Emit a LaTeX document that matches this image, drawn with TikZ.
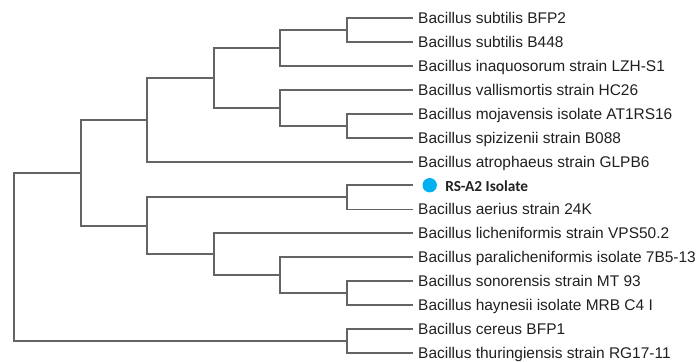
\documentclass[tikz,border=0pt]{standalone}
\usepackage{fontspec}
\setmainfont{Liberation Sans}
\newfontfamily\carlito{Carlito}
\usetikzlibrary{positioning}
\definecolor{treeGray}{RGB}{100,100,100}
\definecolor{labelBlack}{RGB}{32,32,32}
\definecolor{isoBlue}{RGB}{0,176,240}

\begin{document}
\begin{tikzpicture}[
    x=0.75pt, y=-0.75pt,
    branch/.style={draw=treeGray, line width=1.3pt},
    taxon/.style={anchor=west, inner xsep=3.7pt, inner ysep=0pt,
                  text height=9.5pt, text depth=1.25pt,
                  font=\fontsize{11.6}{13}\selectfont, text=labelBlack},
    isodot/.style={circle, fill=isoBlue, minimum size=10.8pt,
                   inner sep=0pt, outer sep=7.5pt},
    isolab/.style={anchor=base west, inner sep=0pt,
                   font=\carlito\bfseries\fontsize{11.5}{13}\selectfont, text=labelBlack},
  ]
  \useasboundingbox (0,0) rectangle (700,361);
  % Taxa
    \node[taxon] (sub1) at (413,18.3)  {Bacillus subtilis BFP2};
    \node[taxon] (sub2) at (413,42.2)  {Bacillus subtilis B448};
    \node[taxon] (inaq) at (413,66.1)  {Bacillus inaquosorum strain LZH-S1};
    \node[taxon] (vall) at (413,90.0)  {Bacillus vallismortis strain HC26};
    \node[taxon] (moja) at (413,113.9) {Bacillus mojavensis isolate AT1RS16};
    \node[taxon] (spiz) at (413,137.8) {Bacillus spizizenii strain B088};
    \node[taxon] (atro) at (413,161.7) {Bacillus atrophaeus strain GLPB6};
    \node[isodot] (dot) at (429.7,185.2) {};
    \node[isolab] (rsa) at (445,191)   {RS-A2 Isolate};
    \node[taxon] (aer)  at (413,209.4) {Bacillus aerius strain 24K};
    \node[taxon] (lich) at (413,233.3) {Bacillus licheniformis strain VPS50.2};
    \node[taxon] (para) at (413,257.2) {Bacillus paralicheniformis isolate 7B5-13};
    \node[taxon] (sono) at (413,281.1) {Bacillus sonorensis strain MT 93};
    \node[taxon] (hayn) at (413,305.0) {Bacillus haynesii isolate MRB C4 I};
    \node[taxon] (cer)  at (413,328.9) {Bacillus cereus BFP1};
    \node[taxon] (thur) at (413,352.8) {Bacillus thuringiensis strain RG17-11};
    % Splits
    \coordinate (subt) at (347,30.25);
    \coordinate (sinq) at (280,48.2);
    \coordinate (mosp) at (347,125.85);
    \coordinate (vams) at (280,107.9);
    \coordinate (subv) at (214,78.05);
    \coordinate (subg) at (147,119.9);
    \coordinate (isoa) at (347,197.3);
    \coordinate (soha) at (347,293.05);
    \coordinate (pash) at (280,275.1);
    \coordinate (ligr) at (214,254.2);
    \coordinate (lica) at (147,225.85);
    \coordinate (main) at (81,172.9);
    \coordinate (ceth) at (347,340.85);
    \coordinate (root) at (14,256.9);
    % Branches
    \draw[branch] (subt) |- (sub1);
    \draw[branch] (subt) |- (sub2);
    \draw[branch] (sinq) |- (subt);
    \draw[branch] (sinq) |- (inaq);
    \draw[branch] (mosp) |- (moja);
    \draw[branch] (mosp) |- (spiz);
    \draw[branch] (vams) |- (vall);
    \draw[branch] (vams) |- (mosp);
    \draw[branch] (subv) |- (sinq);
    \draw[branch] (subv) |- (vams);
    \draw[branch] (subg) |- (subv);
    \draw[branch] (subg) |- (atro);
    \draw[branch] (isoa) |- (dot);
    \draw[branch] (isoa) |- (aer);
    \draw[branch] (soha) |- (sono);
    \draw[branch] (soha) |- (hayn);
    \draw[branch] (pash) |- (para);
    \draw[branch] (pash) |- (soha);
    \draw[branch] (ligr) |- (lich);
    \draw[branch] (ligr) |- (pash);
    \draw[branch] (lica) |- (isoa);
    \draw[branch] (lica) |- (ligr);
    \draw[branch] (main) |- (subg);
    \draw[branch] (main) |- (lica);
    \draw[branch] (ceth) |- (cer);
    \draw[branch] (ceth) |- (thur);
    \draw[branch] (root) |- (main);
    \draw[branch] (root) |- (ceth);
  \end{tikzpicture}
\end{document}
